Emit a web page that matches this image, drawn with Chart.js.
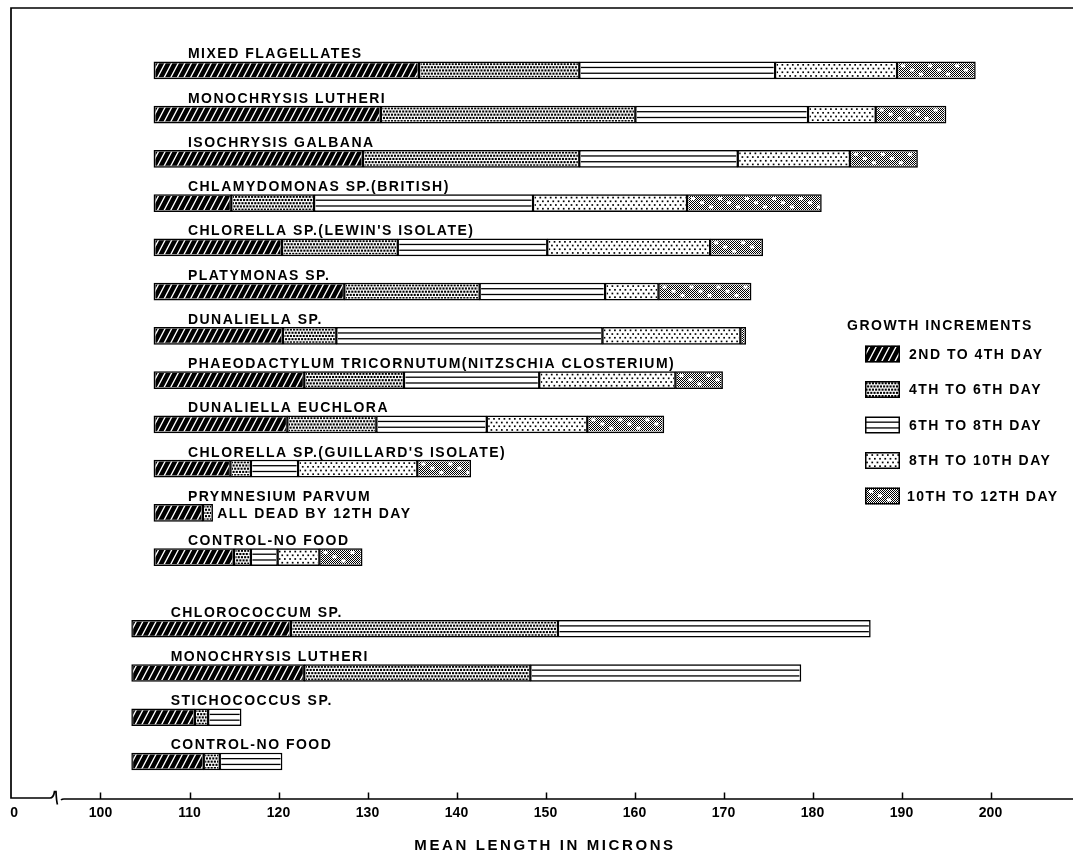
<!DOCTYPE html>
<html>
<head>
<meta charset="utf-8">
<script src="https://cdn.jsdelivr.net/npm/chart.js@4.4.1/dist/chart.umd.min.js"></script>
<style>
  html, body { margin: 0; padding: 0; background: #fff; }
  canvas { display: block; }
</style>
</head>
<body>
<canvas id="growth" width="1073" height="855"></canvas>
<script>
// Mean larval length (microns) on day 2, 4, 6, 8, 10 and 12 for each food.
const upperFoods = [
  'MIXED FLAGELLATES',
  'MONOCHRYSIS LUTHERI',
  'ISOCHRYSIS GALBANA',
  'CHLAMYDOMONAS SP.(BRITISH)',
  "CHLORELLA SP.(LEWIN'S ISOLATE)",
  'PLATYMONAS SP.',
  'DUNALIELLA SP.',
  'PHAEODACTYLUM TRICORNUTUM(NITZSCHIA CLOSTERIUM)',
  'DUNALIELLA EUCHLORA',
  "CHLORELLA SP.(GUILLARD'S ISOLATE)",
  'PRYMNESIUM PARVUM',
  'CONTROL-NO FOOD'
];
const upperDay2  = [106.0, 106.0, 106.0, 106.0, 106.0, 106.0, 106.0, 106.0, 106.0, 106.0, 106.0, 106.0];
const upperDay4  = [135.8, 131.5, 129.5, 114.7, 120.4, 127.4, 120.5, 122.9, 121.0, 114.6, 111.5, 115.0];
const upperDay6  = [153.8, 160.1, 153.8, 124.0, 133.4, 142.6, 126.5, 134.1, 131.0, 116.9, 112.6, 116.9];
const upperDay8  = [175.8, 179.5, 171.6, 148.6, 150.2, 156.7, 156.4, 149.3, 143.4, 122.2, null, 119.9];
const upperDay10 = [189.5, 187.1, 184.2, 165.9, 168.5, 162.7, 171.9, 164.6, 154.7, 135.6, null, 124.6];
const upperDay12 = [198.3, 195.0, 191.8, 181.0, 174.4, 173.1, 172.5, 169.9, 163.3, 141.6, null, 129.4];

// Second experiment, followed to day 8 only.
const lowerFoods = ['CHLOROCOCCUM SP.', 'MONOCHRYSIS LUTHERI', 'STICHOCOCCUS SP.', 'CONTROL-NO FOOD'];
const lowerDay2 = [103.5, 103.5, 103.5, 103.5];
const lowerDay4 = [121.4, 122.9, 110.6, 111.6];
const lowerDay6 = [151.4, 148.3, 112.1, 113.4];
const lowerDay8 = [186.5, 178.7, 115.8, 120.4];

const incrementLabels = ['2ND TO 4TH DAY', '4TH TO 6TH DAY', '6TH TO 8TH DAY', '8TH TO 10TH DAY', '10TH TO 12TH DAY'];
const deadNote = { food: 'PRYMNESIUM PARVUM', text: 'ALL DEAD BY 12TH DAY' };

// Broken axis: the first tick stands for zero.
const tickValues = [90.3, 100, 110, 120, 130, 140, 150, 160, 170, 180, 190, 200];
const tickLabels = ['0', '100', '110', '120', '130', '140', '150', '160', '170', '180', '190', '200'];
const axisTitle = 'MEAN LENGTH IN MICRONS';
const legendTitle = 'GROWTH INCREMENTS';

// ---- build floating-bar datasets (one per two-day increment) ----
const GROUP_GAP = 1.62;          // extra row spacing between the two experiments
const upperSeries = [upperDay2, upperDay4, upperDay6, upperDay8, upperDay10, upperDay12];
const lowerSeries = [lowerDay2, lowerDay4, lowerDay6, lowerDay8];
const rows = [];
upperFoods.forEach((name, i) => rows.push({ name, pos: i, group: 0, series: upperSeries.map(s => s[i]) }));
lowerFoods.forEach((name, j) => rows.push({ name, pos: upperFoods.length - 1 + GROUP_GAP + j, group: 1, series: lowerSeries.map(s => s[j]) }));

const datasets = incrementLabels.map((label, k) => {
  const data = [];
  rows.forEach(r => {
    const a = r.series[k], b = r.series[k + 1];
    if (a != null && b != null) data.push({ x: [a, b], y: r.pos });
  });
  return {
    label, data,
    backgroundColor: '#fff',
    borderColor: '#000',
    borderWidth: 1.5,
    borderSkipped: false,
    barThickness: 17,
    grouped: false
  };
});

// ---- fill textures for the five increments ----
let checker = null;
function checkerPattern(ctx) {
  if (!checker) {
    const c = document.createElement('canvas');
    c.width = 2; c.height = 2;
    const g = c.getContext('2d');
    g.fillStyle = '#000';
    g.fillRect(0, 0, 1, 1); g.fillRect(1, 1, 1, 1);
    checker = ctx.createPattern(c, 'repeat');
  }
  return checker;
}
function paintHatch(ctx, L, T, W, H) {
  ctx.fillStyle = '#000'; ctx.fillRect(L, T, W, H);
  ctx.strokeStyle = '#fff'; ctx.lineWidth = 1.35;
  const lean = H * 0.55;
  ctx.beginPath();
  for (let x = L - lean - 8; x < L + W + 8; x += 6.6) {
    ctx.moveTo(x, T + H + 1); ctx.lineTo(x + lean + 0.6, T - 1);
  }
  ctx.stroke();
}
function paintMesh(ctx, L, T, W, H) {
  ctx.fillStyle = '#fff'; ctx.fillRect(L, T, W, H);
  ctx.fillStyle = '#000';
  for (let r = 0, y = T + 2.2; y < T + H; y += 3.2, r++) {
    for (let x = L + 1.5 + (r % 2) * 1.6; x < L + W; x += 3.2) ctx.fillRect(x - 1, y - 1, 2.1, 2.1);
  }
}
function paintRules(ctx, L, T, W, H) {
  ctx.fillStyle = '#fff'; ctx.fillRect(L, T, W, H);
  ctx.fillStyle = '#000';
  ctx.fillRect(L, T + H * 0.33 - 0.6, W, 1.3);
  ctx.fillRect(L, T + H * 0.67 - 0.6, W, 1.3);
}
function paintDots(ctx, L, T, W, H) {
  ctx.fillStyle = '#fff'; ctx.fillRect(L, T, W, H);
  ctx.fillStyle = '#000';
  for (let r = 0, y = T + 3; y < T + H; y += 3.7, r++) {
    for (let x = L + 2 + (r % 2) * 2.6; x < L + W; x += 5.2) ctx.fillRect(x - 0.8, y - 0.8, 1.7, 1.7);
  }
}
function paintScreen(ctx, L, T, W, H) {
  ctx.fillStyle = '#fff'; ctx.fillRect(L, T, W, H);
  ctx.fillStyle = checkerPattern(ctx); ctx.fillRect(L, T, W, H);
  ctx.fillStyle = '#fff';
  for (let i = 0, x = L + 4; x < L + W - 4; x += 9, i++) {
    ctx.fillRect(x, T + 2.5 + (i % 3) * 4.2, 4, 3);
  }
}
const painters = [paintHatch, paintMesh, paintRules, paintDots, paintScreen];

function drawText(ctx, str, x, y, size, spacing, align, baseline) {
  ctx.save();
  ctx.font = 'bold ' + size + 'px "Liberation Sans", Arial, sans-serif';
  ctx.letterSpacing = spacing + 'px';
  ctx.fillStyle = '#000';
  ctx.textAlign = align || 'left';
  ctx.textBaseline = baseline || 'alphabetic';
  ctx.fillText(str, x, y);
  ctx.restore();
}

const texturePlugin = {
  id: 'textures',
  afterDatasetsDraw(chart) {
    const ctx = chart.ctx;
    chart.data.datasets.forEach((ds, k) => {
      chart.getDatasetMeta(k).data.forEach(bar => {
        const p = bar.getProps(['x', 'y', 'base', 'height'], true);
        const L = Math.min(p.base, p.x), R = Math.max(p.base, p.x);
        const T = p.y - p.height / 2, H = p.height, bw = ds.borderWidth;
        ctx.save();
        ctx.beginPath();
        ctx.rect(L + bw, T + bw, R - L - 2 * bw, H - 2 * bw);
        ctx.clip();
        painters[k](ctx, L, T, R - L, H);
        ctx.restore();
      });
    });
  },
  afterDraw(chart) {
    const ctx = chart.ctx, xs = chart.scales.x, ys = chart.scales.y, area = chart.chartArea;
    const half = 8.5;

    // food names above each bar, and the note for the culture that died
    rows.forEach(r => {
      const yc = ys.getPixelForValue(r.pos);
      const x0 = xs.getPixelForValue(r.series[0]);
      drawText(ctx, r.name, x0 + (r.group === 0 ? 34 : 39), yc - half - 3.5, 14, 1.5);
      if (r.group === 0 && r.name === deadNote.food) {
        const last = r.series.filter(v => v != null).pop();
        drawText(ctx, deadNote.text, xs.getPixelForValue(last) + 4.5, yc + 1, 14, 1.5, 'left', 'middle');
      }
    });

    // frame: top and left rules, broken base axis
    ctx.save();
    ctx.strokeStyle = '#000'; ctx.lineWidth = 1.7; ctx.lineCap = 'butt';
    ctx.beginPath();
    ctx.moveTo(area.right, area.top); ctx.lineTo(area.left, area.top); ctx.lineTo(area.left, area.bottom);
    ctx.lineTo(50, area.bottom);
    ctx.quadraticCurveTo(53.5, area.bottom, 54.5, area.bottom - 6.5);
    ctx.lineTo(56, area.bottom - 6.5);
    ctx.quadraticCurveTo(56.5, area.bottom + 4, 57.5, area.bottom + 6.5);
    ctx.moveTo(61, area.bottom + 2);
    ctx.quadraticCurveTo(62, area.bottom + 1, 64, area.bottom + 1);
    ctx.lineTo(area.right, area.bottom + 1);
    ctx.stroke();
    // tick marks pointing into the plot
    ctx.lineWidth = 1.5;
    ctx.beginPath();
    tickValues.forEach((v, i) => {
      if (i === 0) return;
      const x = Math.round(xs.getPixelForValue(v)) + 0.5;
      ctx.moveTo(x, area.bottom + 1); ctx.lineTo(x, area.bottom - 5.5);
    });
    ctx.stroke();
    ctx.restore();

    drawText(ctx, axisTitle, 545, 846, 15, 2.6, 'center', 'middle');

    // legend
    drawText(ctx, legendTitle, 847, 326, 14, 1.5, 'left', 'middle');
    incrementLabels.forEach((lab, k) => {
      const yc = 354 + k * 35.5, bx = 865, bw = 35, bh = 17;
      ctx.save();
      ctx.beginPath(); ctx.rect(bx, yc - bh / 2, bw, bh); ctx.clip();
      painters[k](ctx, bx, yc - bh / 2, bw, bh);
      ctx.restore();
      ctx.save();
      ctx.strokeStyle = '#000'; ctx.lineWidth = 1.5;
      ctx.strokeRect(bx + 0.75, yc - bh / 2 + 0.75, bw - 1.5, bh - 1.5);
      ctx.restore();
      drawText(ctx, lab, k === 4 ? 907 : 909, yc + 1, 14, 1.5, 'left', 'middle');
    });
  }
};

const X_PER_UNIT = 8.9;            // pixels per micron
const PLOT_LEFT = 11, PLOT_WIDTH = 1062;
const xMin = 100 - (100.5 - PLOT_LEFT) / X_PER_UNIT;
const xMax = xMin + PLOT_WIDTH / X_PER_UNIT;
const ROW_PX = 44.25, PLOT_TOP = 8, PLOT_BOTTOM = 798;
const yMin = -(70.3 - PLOT_TOP) / ROW_PX;
const yMax = yMin + (PLOT_BOTTOM - PLOT_TOP) / ROW_PX;

new Chart(document.getElementById('growth'), {
  type: 'bar',
  data: { datasets },
  options: {
    indexAxis: 'y',
    responsive: false,
    animation: false,
    devicePixelRatio: 1,
    layout: { padding: { top: PLOT_TOP, left: PLOT_LEFT, right: 0, bottom: 26.2 } },
    plugins: { legend: { display: false }, tooltip: { enabled: false } },
    scales: {
      x: {
        type: 'linear',
        min: xMin, max: xMax,
        offset: false,
        grid: { display: false, drawTicks: false },
        border: { display: false },
        afterBuildTicks(scale) { scale.ticks = tickValues.map(v => ({ value: v })); },
        ticks: {
          autoSkip: false, maxRotation: 0, padding: 7, color: '#000',
          font: { family: '"Liberation Sans", Arial, sans-serif', size: 14, weight: 'bold' },
          callback(value) { const i = tickValues.indexOf(value); return i >= 0 ? tickLabels[i] : ''; }
        }
      },
      y: {
        type: 'linear', reverse: true, display: false, offset: false,
        min: yMin, max: yMax
      }
    }
  },
  plugins: [texturePlugin]
});
</script>
</body>
</html>
